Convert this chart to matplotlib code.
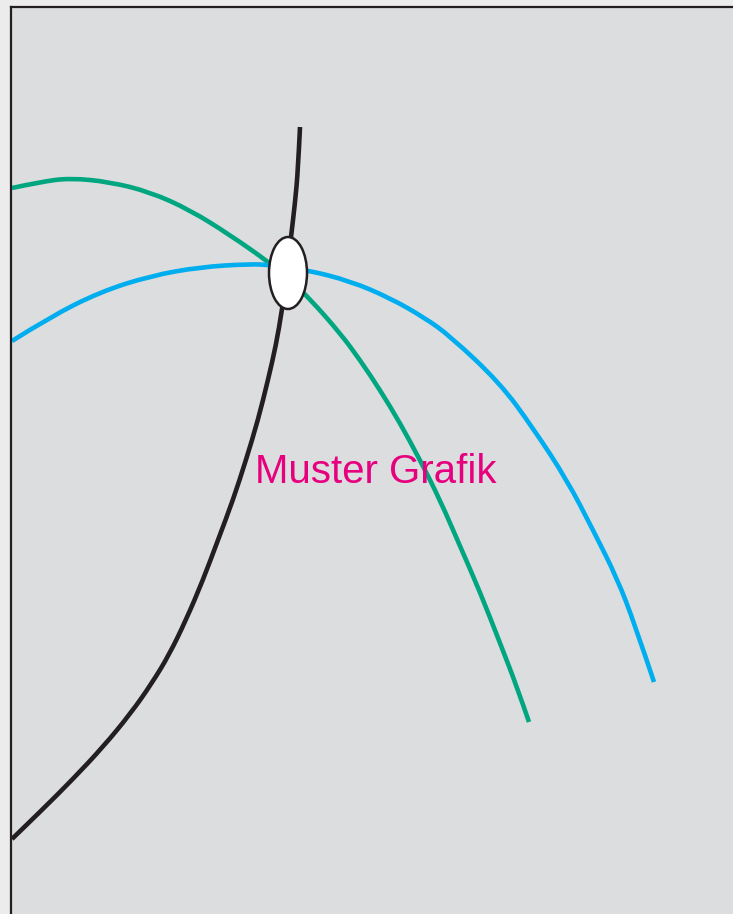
import matplotlib
matplotlib.use("Agg")
import matplotlib.pyplot as plt
from matplotlib.patches import Ellipse, PathPatch
from matplotlib.path import Path

# curve points (x to the right, y downwards)
black_x = [12, 42, 72, 103, 131, 152, 169, 186, 203, 218, 233, 246, 258, 268, 276, 282, 287, 291, 295, 298, 300]
black_y = [839, 810, 780, 747, 713, 683, 655, 620, 580, 540, 500, 460, 420, 380, 345, 310, 273, 237, 203, 170, 127]

green_x = [12, 40, 70, 110, 150, 190, 230, 270, 290, 310, 340, 360, 380, 400, 420, 440, 460, 480, 500, 517, 529]
green_y = [188, 182, 178, 182, 192, 210, 235, 263, 280, 299, 333, 360, 390, 423, 460, 500, 546, 592, 643, 687, 722]

blue_x = [12, 50, 100, 150, 200, 250, 270, 307, 350, 390, 425, 450, 500, 533, 567, 593, 617, 635, 654]
blue_y = [341, 317, 292, 276, 267, 264, 265, 270, 281, 298, 318, 336, 383, 428, 480, 530, 578, 625, 682]

# operating point where the three curves meet
point_x = 288
point_y = 273

label = "Muster Grafik"


def smooth_curve(xs, ys):
    # quadratic b-spline: read points are control points, curve runs through the midpoints
    verts = [(xs[0], ys[0])]
    codes = [Path.MOVETO]
    for i in range(1, len(xs) - 1):
        mid = ((xs[i] + xs[i + 1]) / 2, (ys[i] + ys[i + 1]) / 2)
        if i == len(xs) - 2:
            mid = (xs[-1], ys[-1])
        verts += [(xs[i], ys[i]), mid]
        codes += [Path.CURVE3, Path.CURVE3]
    return Path(verts, codes)


fig = plt.figure(figsize=(7.33, 9.14), dpi=100, facecolor="#ececec")
ax = fig.add_axes([11 / 733, 0, 722 / 733, 907 / 914])
ax.set_facecolor("#dcdddf")

for xs, ys, col, z in [(green_x, green_y, "#00a680", 2),
                       (blue_x, blue_y, "#00aeef", 2),
                       (black_x, black_y, "#231f20", 3)]:
    ax.add_patch(PathPatch(smooth_curve(xs, ys), facecolor="none", edgecolor=col,
                           lw=3.3, capstyle="butt", zorder=z))

ax.add_patch(Ellipse((point_x, point_y), 38, 72, facecolor="white",
                     edgecolor="#231f20", lw=1.8, zorder=4))

ax.text(255, 483, label, color="#e6007e", fontsize=29, family="Liberation Sans",
        ha="left", va="baseline", zorder=5)

ax.set_xlim(11, 733)
ax.set_ylim(914, 7)
ax.set_xticks([])
ax.set_yticks([])
for side in ["right", "bottom"]:
    ax.spines[side].set_visible(False)
for side in ["left", "top"]:
    ax.spines[side].set_linewidth(1.6)
    ax.spines[side].set_color("#231f20")

fig.savefig("out.png", dpi=100, facecolor=fig.get_facecolor())
